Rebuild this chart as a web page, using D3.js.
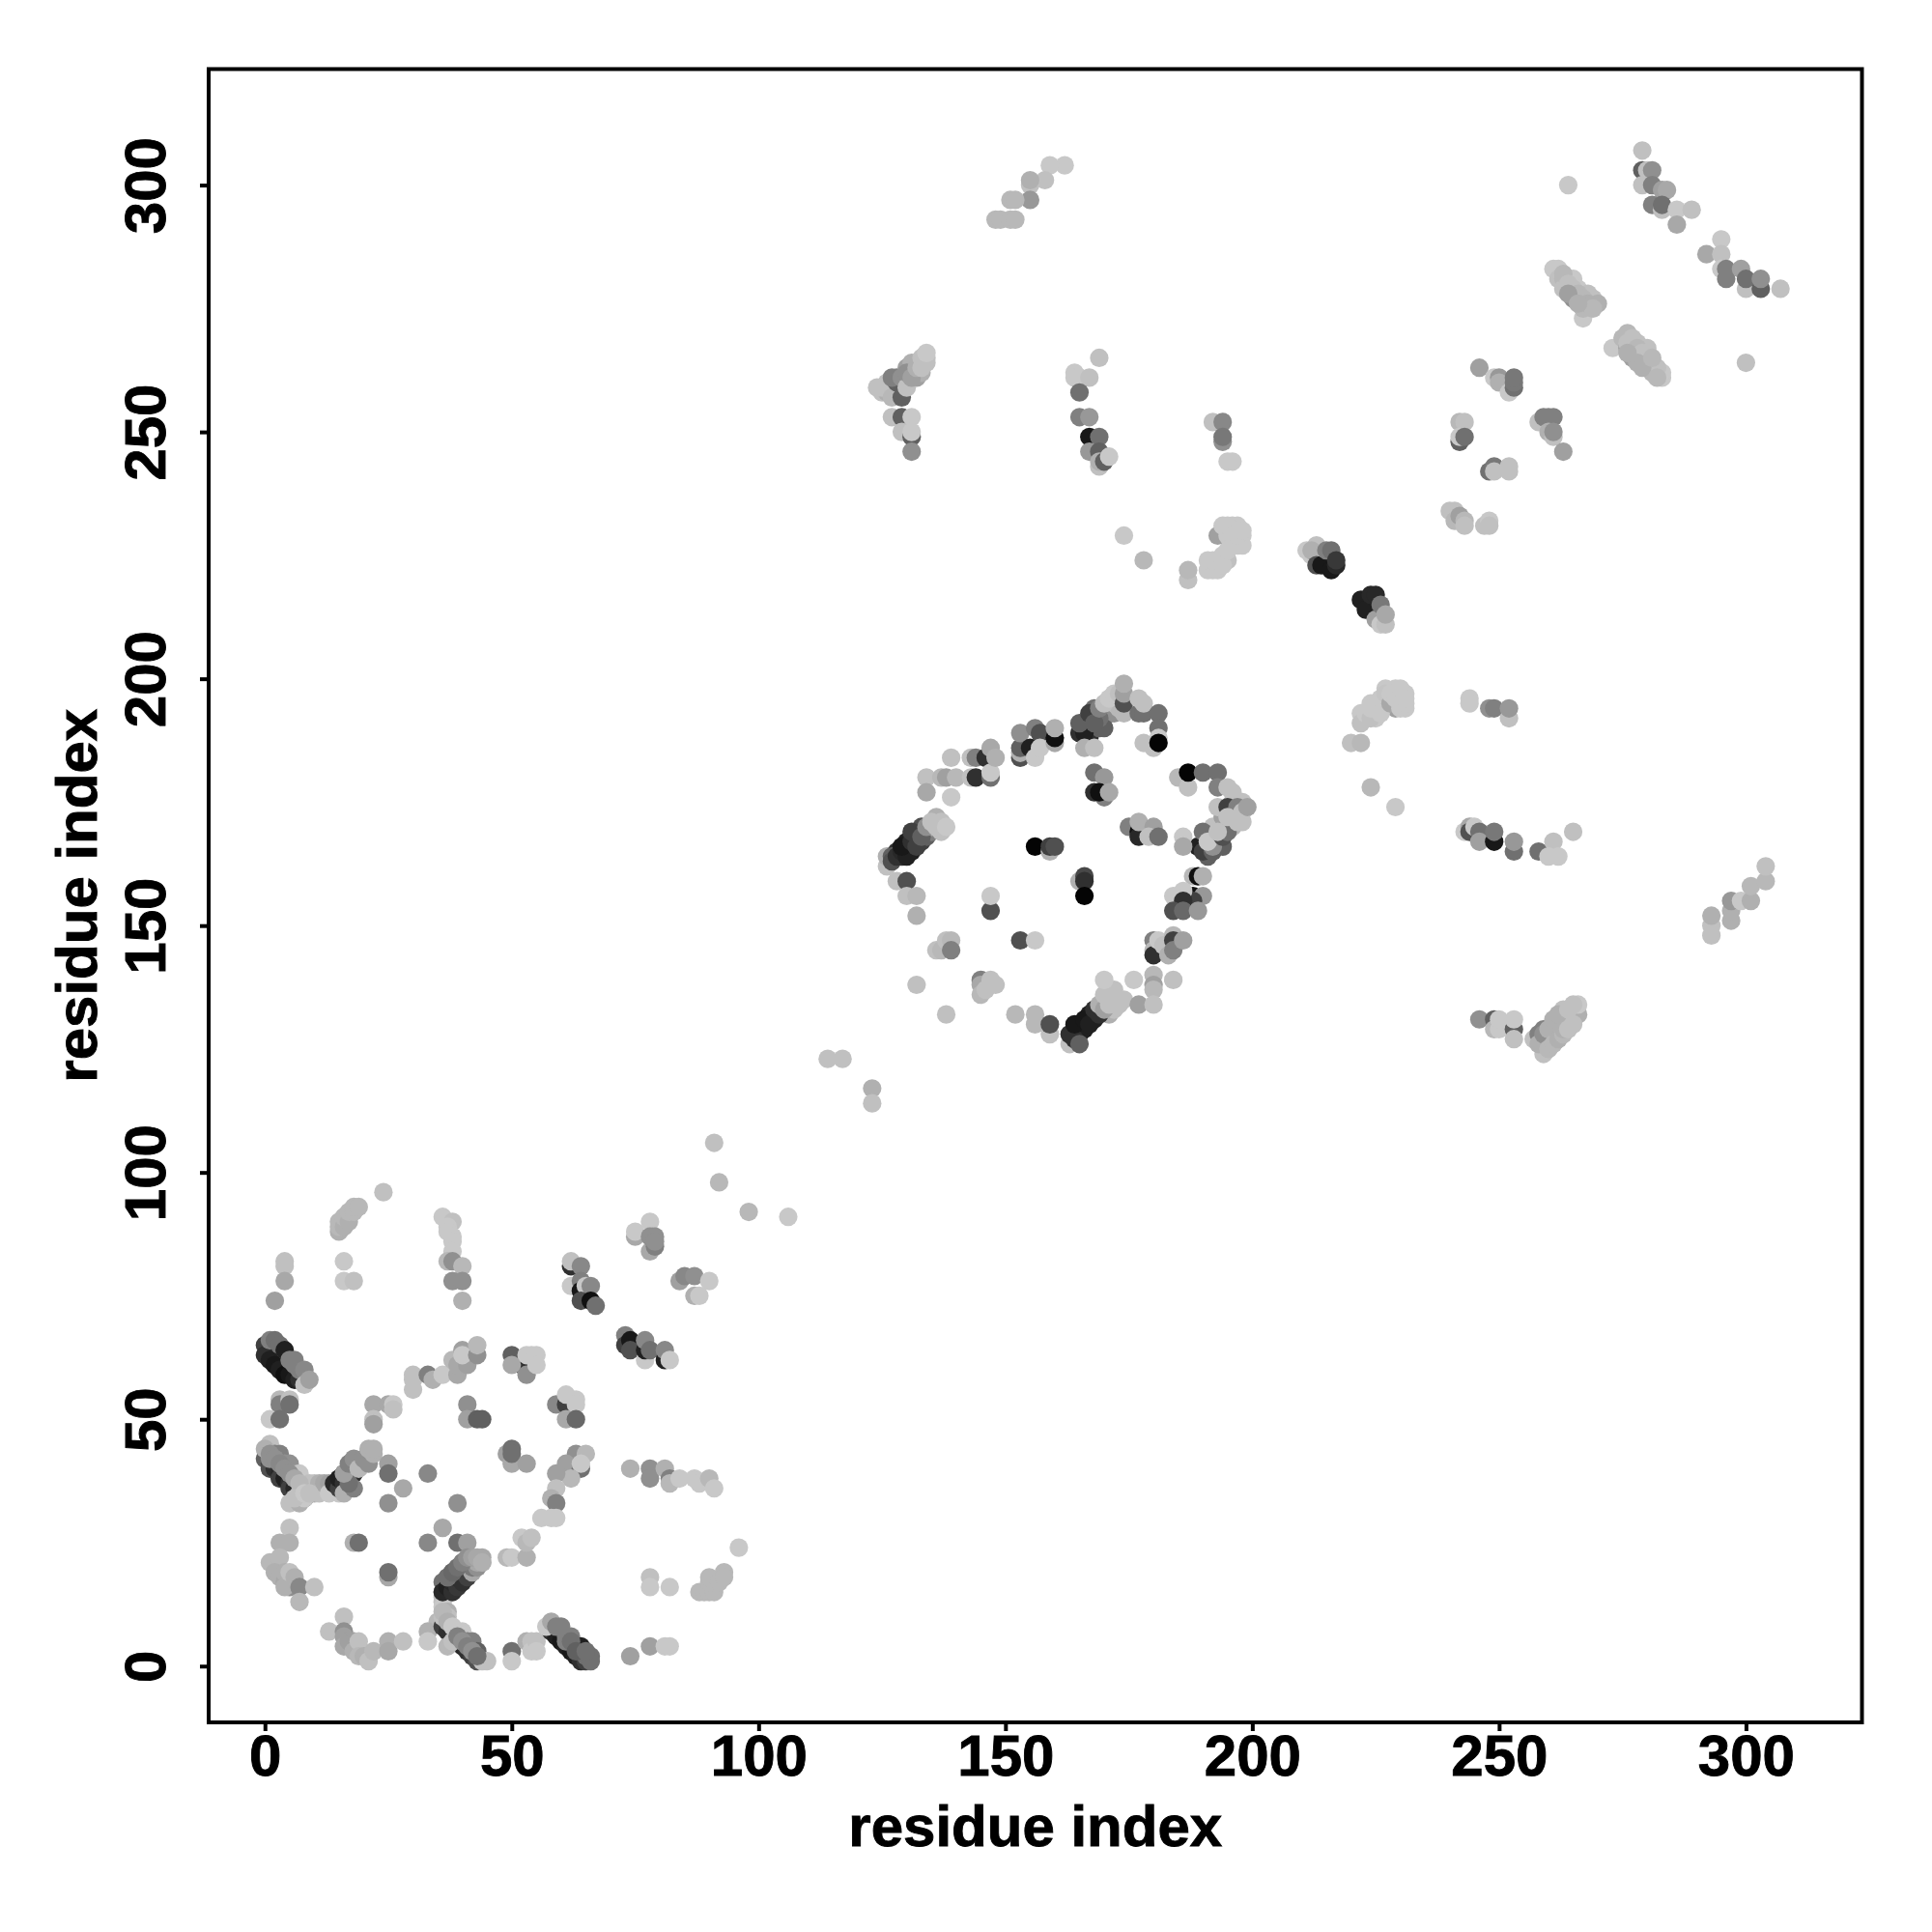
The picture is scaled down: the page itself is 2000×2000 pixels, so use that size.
<!DOCTYPE html>
<html><head><meta charset="utf-8">
<script src="https://cdn.jsdelivr.net/npm/d3@7"></script>
<style>html,body{margin:0;background:#fff}</style></head>
<body><div id="chart"></div>
<script>
const axisTicks = [0,50,100,150,200,250,300];
const axisTitle = "residue index";
const axisDomain = [-11.4,323.5];
// each contact: [residue i, residue j, grey level]
const underlay = [[125,258,192],[126,258,176],[126,260,192],[127,259,160],[128,258,176],[128,261,128],[129,259,128],[130,260,128],[130,263,160],[131,262,144],[131,264,176],[132,261,160],[132,264,176],[133,262,176],[134,264,192],[134,265,192],
[126,162,192],[126,164,176],[128,165,48],[129,164,48],[130,165,32],[130,167,32],[131,165,32],[132,168,48],[133,167,64],[133,170,80],[134,168,96],[135,169,128],[135,170,176],[136,172,176],[137,171,192],[137,169,192],
[165,128,32],[165,130,32],[166,129,32],[167,132,32],[168,131,32],[170,135,176],[171,136,184],[171,132,176],[172,133,192],[173,134,192],[172,137,192],[173,135,192],[174,135,192],
[167,190,64],[167,188,48],[169,190,96],[170,192,128],[171,194,128],[172,193,144],[172,195,192],[173,194,184],[170,190,96],[169,192,112],[168,194,112],
[190,166,96],[191,164,96],[191,166,104],[192,168,112],[193,167,96],[194,166,96],[195,171,160],[196,170,184],[196,172,176],[196,175,192],[197,173,192],[198,175,192],[198,171,192],[192,170,192],[194,172,160]];
const blockA_helix1 = [[0,42,96],[1,41,64],[1,40,80],[2,40,48],[3,39,40],[3,38,64],[4,38,32],[5,37,48],[5,36,64],[6,36,40],[7,35,64],[8,34,112],
[1,45,192],[1,43,160],[2,43,128],[3,43,128],[1,42,144],[4,41,144],[5,41,144],[6,39,152],[7,39,200],[5,33,192],[7,33,176],[7,35,184],[8,36,192],[8,34,200],[9,37,192],[10,37,192],[10,35,176],[11,37,176],[11,35,192],[12,37,168],[13,37,160],[13,35,200],[15,35,200]];
const blockA_branch = [[14,37,40],[15,36,64],[15,38,32],[16,37,48],[16,39,40],[17,38,40],[17,40,56],[18,39,48],[19,41,80],[16,35,176],[18,36,128],[17,37,112],[16,39,160],[17,41,128],[18,42,144],[19,40,184],[20,42,144],[21,41,144],[21,44,176],[22,43,176],[22,44,176],[25,41,160],[25,39,112],[28,36,168],[25,33,144],[33,39,136],[39,33,144]];
const blockA_mid = [[5,28,192],[3,25,176],[5,25,176],[18,25,176],[19,25,112],[25,18,168],[25,19,112],[33,25,136],[36,28,168],[39,25,112],[41,25,160],
[1,21,184],[3,22,184],[2,19,176],[3,18,176],[4,17,168],[4,19,176],[5,16,144],[4,16,176],[5,19,192],[6,18,176],[7,16,136],[10,16,192],[7,13,184]];
const blockA_low = [[16,10,192],[13,7,192],[16,7,144],[16,6,160],[16,4,168],[17,5,160],[18,5,160],[18,3,176],[19,5,192],[19,2,184],[20,2,176],[21,1,192],[22,3,184],[25,5,176],[25,3,168],[28,5,192]];
const blockA_column = [[36,17,112],[36,15,144],[36,14,192],[36,13,192],[36,12,200],[37,11,176],[37,10,192],[36,9,192],[35,9,184],[33,7,176],[33,5,200],[36,8,64],[37,7,48],[38,6,48],[39,5,32],[40,4,40],[41,3,48],[42,2,64],[43,1,80],[37,4,184],[38,5,192],[40,7,200],[41,5,128],[42,5,128],[43,3,96],[44,1,192],[45,1,192]];
const blockA_rise = [[36,15,40],[37,16,32],[38,15,48],[38,17,40],[39,16,56],[39,18,40],[40,17,48],[40,19,56],[41,18,64],[41,20,72],[37,18,112],[38,19,112],[40,21,120],[42,19,168],[42,20,120],[43,20,144],[43,21,168],[44,22,168],[44,21,168]];
const blockA_centre = [[49,22,184],[50,22,200],[53,22,176],[52,26,200],[53,25,184],[54,26,192],[50,3,112],[50,1,200],[53,5,176],[54,5,192],[54,3,200],[49,43,160],[50,41,168],[50,44,112],[50,43,112],[53,41,160],
[41,53,144],[41,50,160],[43,50,96],[44,50,96],[22,53,168],[25,53,168],[26,53,200],[26,52,192],[22,50,192],[22,49,160],[30,59,192],[30,58,192],[30,56,192],[33,59,128],[34,58,176],[36,59,200],[39,59,168],[38,62,184],[39,61,168],[41,61,160],[40,64,160],[40,63,200],[43,63,144],[43,65,184]];
const blockA_sheet = [[0,65,64],[0,63,48],[1,62,32],[2,61,24],[3,60,32],[4,59,16],[5,59,24],[6,58,32],[7,58,48],[1,66,128],[2,66,112],[3,65,112],[4,64,32],[5,62,128],[6,62,128],[6,61,128],[7,60,128],[8,60,136],[8,57,192],[9,58,160],
[3,54,184],[3,53,128],[5,54,192],[5,53,112],[1,50,200],[3,50,112],[2,74,160],[4,82,192],[4,81,192],[4,78,168],[16,82,200],[16,78,200],[18,78,192],[24,96,192],
[15,88,176],[15,89,184],[15,90,184],[16,89,176],[16,91,184],[17,90,176],[17,92,184],[18,92,184],[18,93,184],[19,93,184]];
const blockA_column2 = [[36,91,200],[38,90,192],[37,89,200],[37,88,200],[38,87,200],[38,86,200],[38,84,200],[37,82,184],[38,82,144],[40,81,184],[38,78,144],[40,78,144],[40,74,176]];
const blockB_a = [[62,81,48],[62,82,192],[64,81,136],[62,77,200],[64,78,128],[64,76,24],[65,77,200],[66,77,136],[64,74,80],[66,74,16],[67,73,112],
[75,87,168],[75,88,200],[78,90,200],[78,84,168],[78,87,144],[79,87,144],[79,85,128],[79,86,144],[84,78,160],[85,79,136],[87,79,144],[90,78,200],[87,75,176],[88,75,200],[98,92,184],[106,91,200],
[73,67,128],[73,65,64],[74,66,24],[74,64,80],[77,62,200],[77,64,32],[77,66,136],[78,64,112],[81,62,32],[81,64,136],[82,62,200]];
const blockB_b = [[52,61,48],[53,60,48],[50,63,96],[50,61,168],[53,59,144],[53,63,200],[54,63,200],[55,63,200],[55,61,200],
[59,53,136],[61,53,64],[61,55,200],[63,54,200],[63,53,200],[61,50,168],[63,50,104],
[63,43,144],[65,43,184],[61,41,160],[64,40,112],[64,41,200],[62,38,184],[59,39,160],[59,36,192],[58,34,176],[59,33,128],[56,30,200],[58,30,200],[59,30,200],
[74,40,176],[78,40,144],[78,38,144],[81,40,176],[82,38,128],[82,37,184],[84,38,200],[87,38,200],[88,37,200],[90,38,184],[91,36,200],
[96,24,200],[78,18,192],[78,16,200],[82,16,200],[88,15,184],[89,15,184],[90,15,184],[91,15,184],[90,17,184],[90,18,184],[92,17,184],[93,19,184],[93,18,184],
[74,2,160],[78,4,160],[81,4,200],[82,4,200],[55,5,192],[55,3,200]];
const blockB_c = [[58,7,48],[59,6,32],[60,5,24],[61,4,32],[62,3,24],[63,2,32],[64,1,48],[65,1,64],[57,8,200],[58,9,168],[59,8,128],[60,8,128],[61,6,128],[62,6,128],[63,4,128],[64,4,32],[65,2,112],[66,2,112],[66,1,112]];
const blockC_link = [[114,123,192],[117,123,192],[123,117,176],[123,114,192],[91,106,192],[92,98,184]];
const blockD_sheet = [[127,163,192],[127,164,96],[127,163,80],[128,164,48],[129,165,40],[130,164,32],[129,166,24],[131,167,48],[132,166,64],[131,169,64],[133,168,96],[134,170,144],[135,171,192],[136,170,192],[138,170,200],[128,159,192],[130,159,80],[130,156,192],[132,156,184],[132,152,176],
[139,184,192],[139,176,200],[134,180,192],[134,177,168],[137,180,184],[138,180,160],[140,180,184],[136,145,192],[137,145,184],[138,147,192],[139,147,184],[139,145,128],
[132,138,192],[145,139,128],[145,138,168],[145,136,184],[146,137,192],[147,139,192],[148,138,192],[138,132,192],[152,132,184],[156,132,184],[156,130,184],[159,128,192],[159,130,80],[153,147,80],[156,147,200],[147,153,80],[147,156,200]];
const blockD_top = [[143,184,192],[143,180,192],[144,184,128],[144,180,48],[146,184,48],[147,186,168],[147,180,112],[147,181,200],[148,184,176],[153,184,80],[153,185,176],[153,186,96],[153,189,144],[155,186,32],[156,190,128],[157,189,80],[156,184,200],[157,186,200],[160,187,168],[160,188,16],[160,190,176],
[165,189,48],[166,189,32],[165,191,96],[166,186,176],[168,186,192],[167,193,64],[168,191,96],[169,194,128],[170,195,192],[171,196,200],[172,197,200],[173,197,192],[174,193,184],[174,195,80],[174,197,160],[174,199,176],[177,193,112],[178,193,112],[177,196,192],[178,195,192],[181,193,112],[181,190,112],[181,188,200],[178,187,192],[180,186,192],[181,187,4],
[168,181,112],[170,180,152],[168,177,48],[170,176,128],[169,177,16],[171,177,168]];
const blockD_right = [[185,180,184],[187,178,192],[187,181,4],[190,181,112],[193,181,112],[193,178,128],[195,178,192],[196,177,192],[193,174,192],[195,174,64],[197,174,128],[198,173,192],[199,174,160],[189,166,32],[190,165,64],[192,165,96],[190,169,112],[192,166,144],[191,167,200],[194,168,80],[195,169,112],[193,169,192],[195,172,192],[197,171,192],
[186,168,200],[186,166,168],[175,170,128],[177,169,16],[177,168,40],[177,171,176],[180,170,160],[179,168,192],[181,168,112],
[188,160,184],[189,160,16],[190,160,176],[188,156,16],[190,156,152],[188,155,64],[186,157,200],[184,156,200],[186,155,48],[184,153,80],[186,153,104],[189,153,152]];
const blockD_low = [[180,147,128],[180,145,184],[180,144,48],[181,147,200],[182,146,192],[183,144,176],[184,148,184],[184,147,64],[184,145,128],[186,147,160],
[163,126,192],[163,128,48],[164,127,48],[165,126,96],[164,130,24],[166,131,24],[167,130,32],[168,133,48],[169,132,48],[169,134,176],[170,133,160],[171,134,192],[172,135,192],[170,136,192],[170,139,200],
[176,139,200],[180,140,184],[180,138,160],[180,137,184],[184,139,192],[177,134,160],[180,134,192]];
const blockD_core = [[156,166,4],[159,165,176],[159,166,64],[160,166,80],[165,159,176],[166,160,72],[166,159,48],[166,156,4]];
const blockE_pairs = [[212,225,200],[211,226,200],[213,227,192],[212,226,176],[213,223,80],[214,223,24],[215,226,128],[216,222,24],[216,226,112],[217,223,40],[217,224,56],
[222,216,32],[223,214,32],[224,217,40],[225,217,40],[225,212,160],[226,215,120],[226,211,200],[227,211,192],[227,213,168],
[229,198,200],[227,198,200],[231,197,200],[231,194,200],[229,194,160],[230,195,200],[224,195,200],[225,192,200],[222,193,200],[222,191,192],[220,187,192],[222,187,184],[224,178,184],[229,174,200],
[244,196,200],[244,195,200],[248,194,144],[249,194,128],[252,192,192],[252,194,152],
[243,169,200],[244,170,168],[244,169,80],[245,170,200],[246,169,112],[246,167,160],[249,167,24],[249,169,120],[253,165,112],[253,167,152],[258,165,112],[261,167,192],[260,164,200],[262,164,200],[265,169,192]];
const blockE_strand = [[293,148,192],[293,150,192],[293,152,176],[297,151,176],[297,153,176],[297,155,152],[299,155,200],[301,155,176],[301,158,184],[304,159,184],[304,162,192],
[246,131,144],[249,131,96],[249,129,184],[250,129,200],[250,131,200],[253,129,96],[253,127,192],[253,131,200],
[259,124,192],[259,126,160],[257,127,192],[258,128,128],[259,129,128],[260,127,144],[261,130,128],[261,128,176],[262,129,160],[263,131,128],[262,131,192],[264,130,192],[263,133,192],[264,132,176],[265,131,184],[265,133,192],[266,132,176],[266,134,200]];
const blockF_pairs = [[279,307,192],[279,303,96],[280,303,192],[281,303,144],[279,300,192],[281,300,128],[283,299,160],[284,299,168],[281,296,128],[283,295,192],[283,296,112],[286,295,200],[289,295,192],[286,292,168],
[295,289,200],[292,286,168],[295,286,192],[295,283,200],[296,283,128],[296,281,128],[299,283,160],[300,279,192],[300,281,112],[303,279,96],[303,281,144],[307,279,192],[264,300,200],[300,264,192]];
const blockF_strands = [[261,283,200],[262,283,200],[262,281,192],[263,281,184],[264,281,184],[263,279,192],[265,277,144],[265,281,200],[266,279,200],[267,273,200],[267,275,184],[268,278,192],[269,277,192],[270,276,176],
[273,267,200],[275,269,184],[276,270,184],[276,267,160],[277,265,160],[277,269,192],[278,268,192],[280,265,200],[280,267,192],[281,262,184],[283,261,200],[283,262,200]];
const blockF_small = [[246,263,160],[249,261,200],[250,261,152],[250,260,176],[252,258,200],[253,259,112],[253,260,120],[253,261,120],
[258,252,192],[259,253,128],[260,253,128],[261,253,128],[260,250,176],[261,249,192],[261,250,144],[263,246,160],
[242,252,184],[243,252,192],[242,248,96],[242,249,200],[243,249,112],[248,242,112],[249,243,120],[249,242,192],[252,243,192],[252,242,192],
[240,234,192],[241,234,192],[241,232,184],[242,233,160],[243,232,184],[243,231,192],[247,231,192],[248,232,200],[248,231,192]];
const blockG_top = [[162,304,200],[159,304,200],[158,301,192],[155,300,192],[155,301,176],[155,297,152],[151,297,184],[152,297,184],[148,293,184],[149,293,184],[151,293,184],[152,293,184],
[169,265,192],[164,262,200],[164,261,200],[165,261,200],[167,261,192],[165,258,112],[165,253,128],[167,253,152],[167,249,24],[169,249,112],[167,246,152],[169,246,96],[169,243,192],[169,244,176],[170,244,96],[171,245,200],
[192,252,192],[194,252,136],[194,248,144],[194,249,120],[195,244,200],[196,244,200]];
const blockG_left = [[124,259,192],[125,259,192],[127,257,184],[128,260,96],[129,257,96],[127,261,128],[129,261,144],[130,259,192],[130,262,144],[131,261,160],[132,263,176],[133,263,192],[133,265,192],[134,266,200],
[127,253,192],[129,253,96],[131,253,200],[129,250,192],[131,249,96],[131,250,200],[131,246,144]];
const blockG_upper = [[174,229,200],[178,224,184],[187,220,192],[187,222,184],[191,222,200],[192,222,200],[193,222,200],[193,224,200],[194,225,200],[195,224,192],[193,229,160],[194,231,200],[195,229,200],[196,231,200],[197,231,200],[198,229,200],[198,227,200]];
const overlay = [[0,44,176],[1,43,144],[2,42,144],[3,41,136],[4,40,144],[5,39,144],[6,38,168],[7,37,184],[6,34,192],[8,35,200],[9,35,192],
[37,18,112],[38,19,104],[39,20,112],[40,21,128],[41,22,144],[42,22,160],[43,22,168],[44,21,176],
[36,10,192],[36,11,184],[37,9,176],[38,8,200],[39,6,128],[40,5,144],[41,4,128],[42,3,144],[43,2,112],
[61,5,128],[62,5,112],[63,3,96],[65,3,112],
[263,282,184],[264,280,192],[265,279,192],[266,278,184],[267,277,184],[268,276,176],[269,275,184],[264,278,160],[266,276,176],
[276,268,192],[277,268,192],[278,267,184],[279,266,192],[280,266,192],[281,264,192],[282,263,192],[278,264,176],[279,263,176],[276,266,176],[282,261,184],[281,265,184],
[258,126,176],[259,128,144],[260,129,176],[260,125,184],[261,126,184],[261,131,176],[262,127,176],[262,132,176],[263,128,184],[263,129,176],[264,129,192],[264,133,192],[265,130,192],[265,134,192],
[223,193,200],[224,192,192],[224,194,200],[226,193,200],[226,196,200],[227,197,196],[228,195,168],[228,197,200],[229,196,200],[230,194,200],[230,198,200],[231,195,200],[231,196,200],
[191,224,200],[192,224,200],[194,223,200],[195,226,200],[195,231,200],[196,229,200],[197,227,200],[197,229,200],[198,230,200]];

const marks = [underlay,blockA_helix1,blockA_branch,blockA_mid,blockA_low,blockA_column,blockA_rise,blockA_centre,blockA_sheet,blockA_column2,blockB_a,blockB_b,blockB_c,blockC_link,blockD_sheet,blockD_top,blockD_right,blockD_low,blockD_core,blockE_pairs,blockE_strand,blockF_pairs,blockF_strands,blockF_small,blockG_top,blockG_left,blockG_upper,overlay].flat();

const svg = d3.select("#chart").append("svg").attr("width",2000).attr("height",2000).style("display","block");
const L=216,R=1927.5,T=71.5,B=1783;
const x = d3.scaleLinear().domain(axisDomain).range([L,R]);
const y = d3.scaleLinear().domain(axisDomain).range([B,T]);
const font = "'Liberation Sans',Arial,sans-serif";

svg.append("g").selectAll("circle").data(marks).join("circle")
  .attr("cx",d=>x(d[0])).attr("cy",d=>y(d[1])).attr("r",9.6)
  .attr("fill",d=>d3.rgb(d[2],d[2],d[2]));

svg.append("rect").attr("x",L).attr("y",T).attr("width",R-L).attr("height",B-T)
  .attr("fill","none").attr("stroke","#000").attr("stroke-width",4);

const ax = svg.append("g").attr("transform",`translate(0,${B})`)
  .call(d3.axisBottom(x).tickValues(axisTicks).tickSize(9).tickPadding(10).tickSizeOuter(0));
const ay = svg.append("g").attr("transform",`translate(${L},0)`)
  .call(d3.axisLeft(y).tickValues(axisTicks).tickSize(9).tickPadding(0).tickSizeOuter(0));
const heavy = sel => sel.attr("font-family",font).attr("font-weight",700).attr("font-size",60)
  .attr("fill","#000").attr("stroke","#000").attr("stroke-width",0.9);
[ax,ay].forEach(g=>{
  g.select(".domain").remove();
  g.selectAll("line").attr("stroke","#000").attr("stroke-width",4);
  heavy(g.selectAll("text"));
});
ax.selectAll("text").attr("dy",null).attr("y",55);
ay.selectAll("text").attr("x",null).attr("dy",null).attr("text-anchor","middle")
  .attr("transform",`translate(${171-L},0) rotate(-90)`);

heavy(svg.append("text").attr("x",(L+R)/2).attr("y",1911).attr("text-anchor","middle")).text(axisTitle);
heavy(svg.append("text").attr("transform",`translate(99.5,${(T+B)/2}) rotate(-90)`).attr("text-anchor","middle")).text(axisTitle);
</script></body></html>
